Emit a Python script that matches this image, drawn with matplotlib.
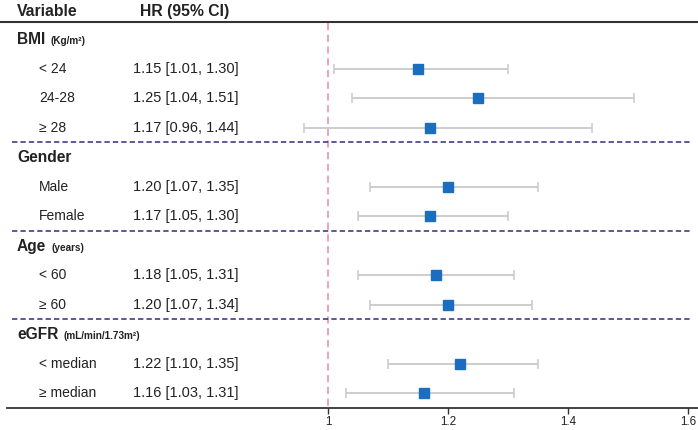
import numpy as np
import matplotlib
matplotlib.use('Agg')
import matplotlib.pyplot as plt
from matplotlib.transforms import blended_transform_factory

plt.rcParams['font.family'] = ['Liberation Sans', 'DejaVu Sans']

## chart data
groups = ['BMI', 'Gender', 'Age', 'eGFR']
group_units = ['(Kg/m\u00b2)', '', '(years)', '(mL/min/1.73m\u00b2)']
subgroups = [['< 24', '24-28', '\u2265 28'],
             ['Male', 'Female'],
             ['< 60', '\u2265 60'],
             ['< median', '\u2265 median']]
hr = [1.15, 1.25, 1.17, 1.20, 1.17, 1.18, 1.20, 1.22, 1.16]
ci_low = [1.01, 1.04, 0.96, 1.07, 1.05, 1.05, 1.07, 1.10, 1.03]
ci_high = [1.30, 1.51, 1.44, 1.35, 1.30, 1.31, 1.34, 1.35, 1.31]
xticks = [1, 1.2, 1.4, 1.6]
xtick_labels = ['1', '1.2', '1.4', '1.6']

## layout / style
W, H = 698, 430
sq_color = '#1a6dbf'
ci_color = '#c9c9c9'
ref_color = '#ee9bb0'
sep_color = '#2e2e7a'
x_group = 17 / W    # group label column (axes fraction)
x_sub = 39 / W      # subgroup label column
x_hr = 133 / W      # HR text column

fig = plt.figure(figsize=(W / 100, H / 100), dpi=100)
ax = fig.add_axes([0, 0, 1, 1])
ax.set_xlim(1 - 328 / 600, 1 + 370 / 600)
ax.set_ylim(14.254, -0.322)
tr = blended_transform_factory(ax.transAxes, ax.transData)

# header
ax.text(x_group, 0.08, 'Variable', transform=tr, fontsize=11.3, fontweight='bold',
        va='center', ha='left', color='#222222')
ax.text(140 / W, 0.08, 'HR (95% CI)', transform=tr, fontsize=11.3, fontweight='bold',
        va='center', ha='left', color='#222222')
ax.plot([0, 1], [0.41, 0.41], transform=tr, color='#333333', lw=1.5)

# rows
rows = []
row = 1
n_groups = len(groups)
for g, (name, unit, subs) in enumerate(zip(groups, group_units, subgroups)):
    lab = ax.text(x_group, row + 0.18, name, transform=tr, fontsize=11.2,
                  fontweight='bold', va='baseline', ha='left', color='#222222')
    if unit:
        ax.annotate(unit, xy=(1, row + 0.18), xycoords=(lab, 'data'),
                    xytext=(4, 0), textcoords='offset points', fontsize=7.2,
                    fontweight='bold', va='baseline', ha='left', color='#222222')
    row += 1
    for s in subs:
        rows.append(row)
        ax.text(x_sub, row, s, transform=tr, fontsize=10, va='center', ha='left',
                color='#222222')
        row += 1
    if g < n_groups - 1:
        ax.plot([12 / W, 690 / W], [row - 0.5, row - 0.5], transform=tr,
                color=sep_color, lw=1.1, ls=(0, (3.5, 2)))

rows = np.array(rows)
hr_arr = np.array(hr)
lo_arr = np.array(ci_low)
hi_arr = np.array(ci_high)

for r, h, l, u in zip(rows, hr, ci_low, ci_high):
    ax.text(x_hr, r, f'{h:.2f} [{l:.2f}, {u:.2f}]', transform=tr, fontsize=10.5,
            va='center', ha='left', color='#222222')

# reference line
ax.plot([1, 1], [0.45, row - 0.5], color=ref_color, lw=1.3, ls=(0, (4, 2.5)), zorder=1)

# CIs and points
ax.errorbar(hr_arr, rows, xerr=[hr_arr - lo_arr, hi_arr - hr_arr], fmt='none',
            ecolor=ci_color, elinewidth=1.3, capsize=3.8, capthick=1.1, zorder=2)
ax.plot(hr_arr, rows, 's', ms=7.8, color=sq_color, mec=sq_color, zorder=3)

# x axis
for side in ['top', 'left', 'right']:
    ax.spines[side].set_visible(False)
ax.spines['bottom'].set_position(('data', row - 0.5))
ax.spines['bottom'].set_bounds(1 - 321 / 600, 1 + 370 / 600)
ax.spines['bottom'].set_color('#333333')
ax.spines['bottom'].set_linewidth(1.3)
ax.set_yticks([])
ax.set_xticks(xticks)
ax.set_xticklabels(xtick_labels)
ax.tick_params(axis='x', direction='out', length=4, width=1, color='#333333',
               labelsize=8.4, pad=2, labelcolor='#222222')

fig.savefig('out.png', dpi=100)
